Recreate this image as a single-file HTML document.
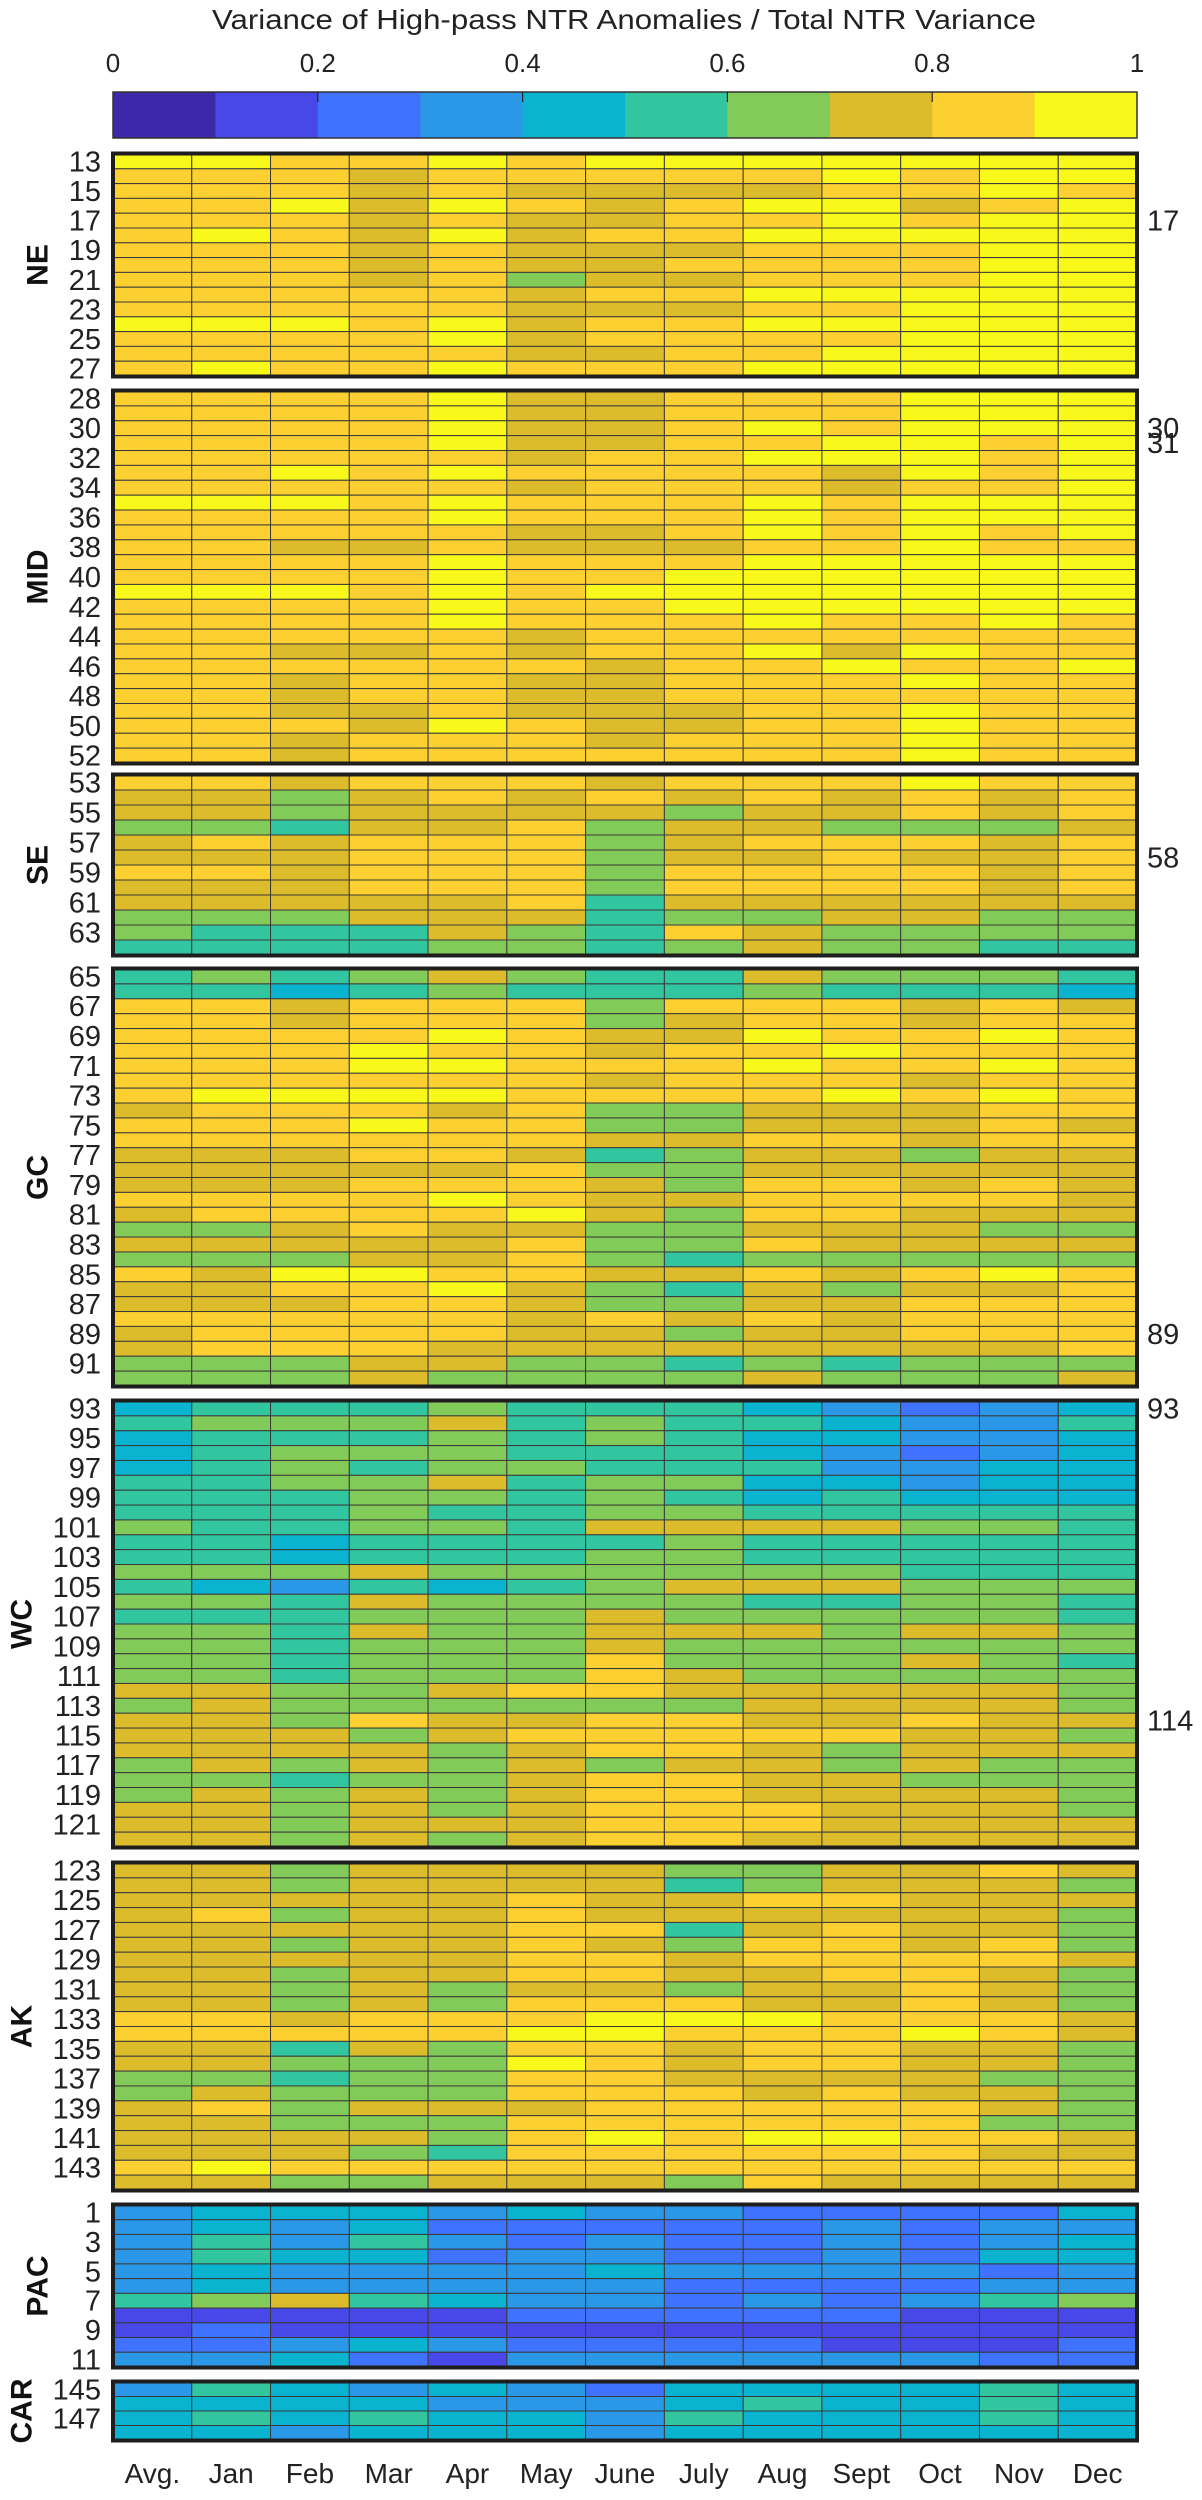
<!DOCTYPE html>
<html><head><meta charset="utf-8">
<style>
html,body{margin:0;padding:0;background:#fff;}
svg{display:block;font-family:"Liberation Sans",Arial,sans-serif;}
</style></head>
<body>
<svg id="chart" width="1202" height="2500" viewBox="0 0 1202 2500" xmlns="http://www.w3.org/2000/svg">
<text x="624" y="29" text-anchor="middle" font-size="28" fill="#222" textLength="824" lengthAdjust="spacingAndGlyphs">Variance of High-pass NTR Anomalies / Total NTR Variance</text>
<g id="cbar"></g>
<g id="panels"></g>
<g id="xlabels"></g>
</svg>
<script>
// colour scale (10 discrete bins, 0..1)
const binColors = ["#3c28a8","#4848e8","#3f72fe","#2a98e6","#0ab4d0","#32c6a0","#82cb58","#dcbc2a","#fcd030","#f8f81a"];
const cbarTicks = [0, 0.2, 0.4, 0.6, 0.8, 1];
const cbarTickLabels = ["0","0.2","0.4","0.6","0.8","1"];
const months = ["Avg.","Jan","Feb","Mar","Apr","May","June","July","Aug","Sept","Oct","Nov","Dec"];
// each string = one station row, each digit d = value in [d/10, (d+1)/10) -> value (d+0.5)/10
const NE = ["9988989999999","8887888889899","8887877778898","8897987899789","8887877889899","8987978899999","8887877788899","8887877888899","8887867788899","8888878899999","8888877788999","9998978899999","8888978888999","8888877889999","8988988899999"];
const MID = ["8888977888999","8888977888999","8888977898999","8888977889989","8888878899989","8898988887989","8888878887889","9998988898999","8888988898999","8888877898989","8877877788988","8888988899999","8888988999999","9998989999999","8888988999999","8888988898898","8888878888888","8877878897988","8888887889889","8878877888988","8878877888888","8877877788988","8887987788988","8878887888988","8878888888988"];
const SE = ["8878887888988","7767878787878","7767777677878","6657786776667","7878886788878","7778886778778","8878886888878","7778886888878","7777785777777","6667775667766","6555765876666","5555665676655"];
const GC = ["5656765576665","5545655565554","8878886888787","8878886788788","8888987798898","8889887889888","8889988898898","8888887888788","8999988889898","7888786677788","8889886677787","8888887788788","7778875677677","7777786677777","7778887688787","8888987788887","7888897688777","6678776677766","7777786687777","6667786566666","8799887787898","7788976576778","7778876677888","8888878787888","7888877677888","7888777777778","6667766565666","6667666676667"];
const WC = ["4555655543234","5666756554335","4555656544334","4566655543234","4565665553344","5566756644344","5556656545444","5556556655555","6556657777665","5545555655555","5545556655555","6667666666555","5435456777666","6657666655665","5556667666665","6657667776776","6656667666666","6656668666765","6656668766666","7766788777776","6766666677776","7768778877877","7776788888776","7777678876777","6767676776766","6656678877666","6767678877776","7767678887776","7767778887777","7767678877777"];
const AK = ["7767777667787","7767777567776","7777787788777","7867787777776","7777788578776","7767787688786","7777788788887","7767788778876","7767677677876","7767688877876","8878889998887","8888899888987","7757688788776","7766698788776","6656688777766","6766688878776","7867778888876","7766688888866","7777689899887","7776588888877","8988888888888","7766777687777"];
const PAC = ["3444343322224","3434222223233","3535323223234","3544233223244","3433334333323","3433333222233","5675433232356","1111122222111","1211111111111","2234322221112","3342133333322"];
const CAR = ["3543432444454","4444333454454","4545443544454","4434443444444"];
const panelNames = ["NE","MID","SE","GC","WC","AK","PAC","CAR"];
const panelData = [NE,MID,SE,GC,WC,AK,PAC,CAR];
const panelFirst = [13,28,53,65,93,123,1,145];
const rightLabels = [17,30,31,58,89,93,114];

const NS="http://www.w3.org/2000/svg";
const X0=113, X1=1137;
const layout = [[152,378,38],[389,765,38],[773,957,38],[967,1388,38],[1399,1849,22],[1861,2192,22],[2203,2369,38],[2380,2442,22]];
function mk(tag, attrs, parent){const e=document.createElementNS(NS,tag);for(const k in attrs)e.setAttribute(k,attrs[k]);parent.appendChild(e);return e;}
function colorOf(v){let b=Math.floor(v*10);if(b<0)b=0;if(b>9)b=9;return binColors[b];}
const xScale = v => X0 + v*(X1-X0);

// colorbar
const cb=document.getElementById('cbar');
for(let i=0;i<binColors.length;i++){
  const r=mk('rect',{x:xScale(i/10),y:92,width:(X1-X0)/10+0.5,height:46,fill:binColors[i]},cb);
  
  
}
const cbo=mk('rect',{x:X0,y:92,width:X1-X0,height:46,fill:'none',stroke:'#333','stroke-width':1.5},cb);


cbarTicks.forEach((t,i)=>{
  const tx=mk('text',{x:xScale(t),y:72,'text-anchor':'middle','font-size':26,fill:'#222'},cb);
  tx.textContent=cbarTickLabels[i];
  
  
  if(t>0&&t<1){const l=mk('line',{x1:xScale(t),x2:xScale(t),y1:92,y2:102,stroke:'#222','stroke-width':1.2},cb);
    
    }
});

// panels
const pg=document.getElementById('panels');
panelData.forEach((rows,p)=>{
  const [top,bot,lx]=layout[p];
  const g=mk('g',{},pg);
  
  
  const n=rows.length, y0=top+2, rh=(bot-2-y0)/n, cw=(X1-X0)/months.length;
  rows.forEach((s,ri)=>{
    for(let c=0;c<s.length;c++){
      const v=(parseInt(s[c],10)+0.5)/10;
      const r=mk('rect',{x:X0+c*cw,y:y0+ri*rh,width:cw,height:rh,fill:colorOf(v),stroke:'#3a3a3a','stroke-width':1},g);
      
      
    }
    const st=panelFirst[p]+ri, cy=y0+(ri+0.5)*rh;
    if(ri%2===0){
      const t=mk('text',{x:101,y:cy+10,'text-anchor':'end','font-size':29,fill:'#222'},g);
      t.textContent=st;
      
      
    }
    if(rightLabels.includes(st)&&!(p===6)){
      const t=mk('text',{x:1147,y:cy+10,'text-anchor':'start','font-size':29,fill:'#222'},g);
      t.textContent=st;
      
      
    }
  });
  const b=mk('rect',{x:X0,y:top+1.5,width:X1-X0,height:bot-top-3,fill:'none',stroke:'#1e1e1e','stroke-width':4},g);
  
  
  const cyc=(top+bot)/2;
  const rl=mk('text',{x:lx,y:cyc,'text-anchor':'middle','font-size':30,'font-weight':'bold',fill:'#111',transform:`rotate(-90 ${lx} ${cyc})`,'dominant-baseline':'central'},g);
  rl.textContent=panelNames[p];
  
  
});

// x labels
const xg=document.getElementById('xlabels');
const cw=(X1-X0)/months.length;
months.forEach((m,i)=>{
  const t=mk('text',{x:X0+(i+0.5)*cw,y:2483,'text-anchor':'middle','font-size':28,fill:'#222'},xg);
  t.textContent=m;
  
  
});
</script>
</body></html>
